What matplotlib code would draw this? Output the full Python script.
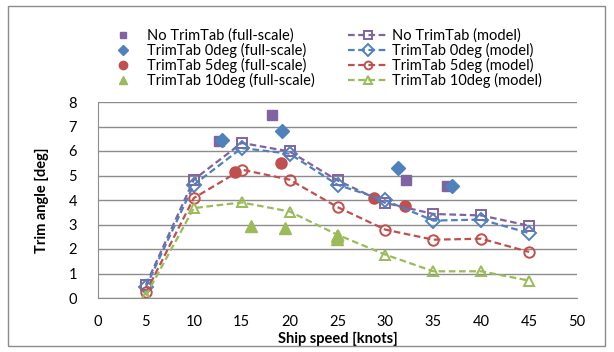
import matplotlib.pyplot as plt
from matplotlib.patches import Rectangle

plt.rcParams["font.family"] = ["Lato", "DejaVu Sans"]

# model test data (trim angle vs ship speed)
speed_model = [5, 10, 15, 20, 25, 30, 35, 40, 45]
no_tab_model = [0.54, 4.83, 6.33, 5.98, 4.80, 3.88, 3.43, 3.37, 2.95]
tab0_model = [0.45, 4.62, 6.12, 5.89, 4.62, 3.98, 3.16, 3.20, 2.65]
tab5_model = [0.23, 4.08, 5.24, 4.83, 3.71, 2.79, 2.38, 2.42, 1.88]
tab10_model = [0.10, 3.67, 3.90, 3.53, 2.58, 1.77, 1.09, 1.09, 0.71]

# full-scale trials
no_tab_fs_x = [12.6, 18.2, 32.1, 36.4]
no_tab_fs_y = [6.39, 7.48, 4.83, 4.58]
tab0_fs_x = [12.9, 19.2, 31.3, 36.9]
tab0_fs_y = [6.43, 6.80, 5.31, 4.56]
tab5_fs_x = [14.3, 19.1, 28.8, 32.0]
tab5_fs_y = [5.13, 5.51, 4.08, 3.77]
tab10_fs_x = [16.0, 19.5, 24.9, 24.9]
tab10_fs_y = [2.92, 2.86, 2.55, 2.40]

PURPLE = "#8064A2"
BLUE = "#4F81BD"
RED = "#C0504D"
GREEN = "#9BBB59"

fig = plt.figure(figsize=(6.14, 3.52), dpi=100)
fig.add_artist(Rectangle((8 / 614, 1 - 346 / 352), 597 / 614, 340 / 352,
                         transform=fig.transFigure, fill=False,
                         edgecolor="#8c8c8c", lw=1.0))
ax = fig.add_axes([98 / 614, 1 - 298 / 352, 479 / 614, 196 / 352])

h_fs = []
h_fs += ax.plot(no_tab_fs_x, no_tab_fs_y, "s", color=PURPLE, ms=6.5, ls="none",
                label="No TrimTab (full-scale)")
h_fs += ax.plot(tab0_fs_x, tab0_fs_y, "D", color=BLUE, ms=7, ls="none",
                label="TrimTab 0deg (full-scale)")
h_fs += ax.plot(tab5_fs_x, tab5_fs_y, "o", color=RED, ms=8, ls="none",
                label="TrimTab 5deg (full-scale)")
h_fs += ax.plot(tab10_fs_x, tab10_fs_y, "^", color=GREEN, ms=8, ls="none",
                label="TrimTab 10deg (full-scale)")

h_m = []
for ys, mk, col, lab in [
    (no_tab_model, "s", PURPLE, "No TrimTab (model)"),
    (tab0_model, "D", BLUE, "TrimTab 0deg (model)"),
    (tab5_model, "o", RED, "TrimTab 5deg (model)"),
    (tab10_model, "^", GREEN, "TrimTab 10deg (model)"),
]:
    h_m += ax.plot(speed_model, ys, marker=mk, color=col, ls=(0, (3, 1.6)),
                   lw=1.6, ms=7.5, mfc="none", mew=1.4, label=lab)

ax.set_xlim(0, 50)
ax.set_ylim(0, 8)
ax.set_xticks(range(0, 51, 5))
ax.set_yticks(range(0, 9))
ax.tick_params(length=0, labelsize=10.5)
ax.tick_params(axis="x", pad=12)
ax.tick_params(axis="y", pad=15)
ax.grid(True, axis="y", color="#8c8c8c", lw=1.0)
ax.set_axisbelow(True)
for s in ["top", "right"]:
    ax.spines[s].set_visible(False)
for s in ["left", "bottom"]:
    ax.spines[s].set_color("#8c8c8c")
ax.set_xlabel("Ship speed [knots]", fontsize=10.5, fontweight="bold", labelpad=2)
ax.set_ylabel("Trim angle [deg]", fontsize=10.5, fontweight="bold", labelpad=14)

fig.legend(h_fs + h_m, [h.get_label() for h in h_fs + h_m], ncol=2,
           loc="upper left", bbox_to_anchor=(96 / 614, 1 - 21 / 352),
           frameon=False, fontsize=10.5, handlelength=2.75, handletextpad=0.25,
           columnspacing=2.3, labelspacing=0.0, borderpad=0, markerscale=0.75)

fig.savefig("out.png", dpi=100)
